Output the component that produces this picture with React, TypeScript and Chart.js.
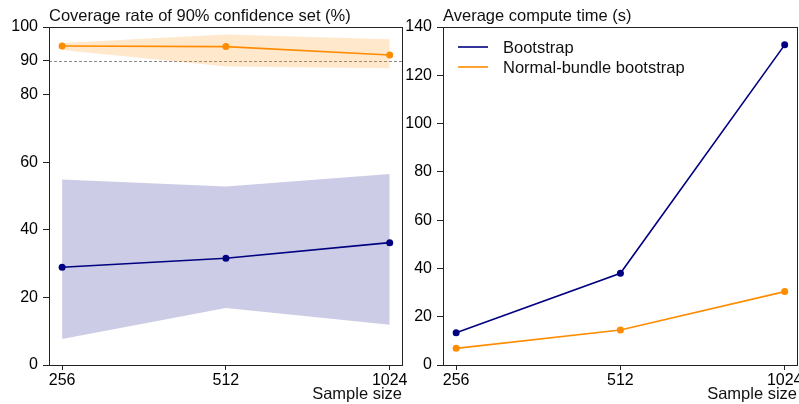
import React, { useEffect, useRef } from "react";
import { Chart, registerables } from "chart.js";
Chart.register(...registerables);

const sampleSizes = ["256", "512", "1024"];
const xIndex = [0, 1, 2];

const coverageBootstrap = [28.9, 31.6, 36.2];
const coverageBootstrapLow = [7.7, 16.9, 11.9];
const coverageBootstrapHigh = [54.9, 52.8, 56.5];
const coverageNormal = [94.4, 94.2, 91.7];
const coverageNormalLow = [93.2, 88.3, 87.8];
const coverageNormalHigh = [95.3, 97.8, 96.4];
const coverageTicks = [0, 20, 40, 60, 80, 90, 100];
const nominalLevel = 90;

const timeBootstrap = [13.4, 38.0, 132.6];
const timeNormal = [6.9, 14.5, 30.4];
const timeTicks = [0, 20, 40, 60, 80, 100, 120, 140];

const seriesNames = ["Bootstrap", "Normal-bundle bootstrap"];
const NAVY = "#000080";
const ORANGE = "#FF8C00";
const NAVY_BAND = "rgba(0,0,128,0.2)";
const ORANGE_BAND = "rgba(255,140,0,0.2)";
const FONT = "'Liberation Sans', Arial, sans-serif";

const pts = (ys: number[]) => xIndex.map((x, i) => ({ x, y: ys[i] }));

function lineDs(label: string, ys: number[], color: string) {
  return {
    label,
    data: pts(ys),
    borderColor: color,
    backgroundColor: color,
    borderWidth: 1.6,
    pointRadius: 3.5,
    pointBorderWidth: 0,
    pointBackgroundColor: color,
    fill: false,
    tension: 0,
  };
}
function bandDs(label: string, ys: number[], fill: any, color: string) {
  return {
    label,
    data: pts(ys),
    borderWidth: 0,
    borderColor: "rgba(0,0,0,0)",
    backgroundColor: color,
    pointRadius: 0,
    fill,
    tension: 0,
  };
}

function makeOptions(title: string, yTicks: number[], yMax: number, yWidth: number, padRight: number, extra: any) {
  return {
    responsive: false,
    animation: false as const,
    events: [],
    layout: { autoPadding: false, padding: { top: 27, left: 0, right: padRight, bottom: 0 } },
    plugins: {
      legend: { display: false },
      tooltip: { enabled: false },
      title: { display: false },
      panelDecor: { title, ...extra },
    },
    scales: {
      x: {
        type: "linear" as const,
        min: -0.08,
        max: 2.075,
        afterBuildTicks: (s: any) => {
          s.ticks = xIndex.map((v) => ({ value: v }));
        },
        afterFit: (s: any) => {
          s.height = 39;
          s.paddingLeft = 0;
          s.paddingRight = 0;
        },
        ticks: {
          callback: (v: any) => sampleSizes[v] ?? "",
          font: { family: FONT, size: 16 },
          color: "#000",
          padding: 1,
          maxRotation: 0,
          autoSkip: false,
        },
        grid: { drawOnChartArea: false, drawTicks: true, tickLength: 5, color: "#222", lineWidth: 1 },
        border: { display: false },
      },
      y: {
        type: "linear" as const,
        min: 0,
        max: yMax,
        afterBuildTicks: (s: any) => {
          s.ticks = yTicks.map((v) => ({ value: v }));
        },
        afterFit: (s: any) => {
          s.width = yWidth;
        },
        ticks: {
          font: { family: FONT, size: 16 },
          color: "#000",
          padding: 5,
          autoSkip: false,
        },
        grid: { drawOnChartArea: false, drawTicks: true, tickLength: 6, color: "#222", lineWidth: 1 },
        border: { display: false },
      },
    },
  };
}

const decorPlugin = {
  id: "panelDecor",
  beforeDatasetsDraw(chart: any, _args: any, opts: any) {
    const { ctx, chartArea, scales } = chart;
    if (opts.refLine !== undefined) {
      const y = Math.round(scales.y.getPixelForValue(opts.refLine)) + 0.5;
      ctx.save();
      ctx.strokeStyle = "#8a8a8a";
      ctx.lineWidth = 1;
      ctx.setLineDash([3, 2]);
      ctx.beginPath();
      ctx.moveTo(chartArea.left, y);
      ctx.lineTo(chartArea.right, y);
      ctx.stroke();
      ctx.restore();
    }
  },
  afterDraw(chart: any, _args: any, opts: any) {
    const { ctx, chartArea } = chart;
    ctx.save();
    ctx.strokeStyle = "#222";
    ctx.lineWidth = 1;
    ctx.strokeRect(
      Math.round(chartArea.left) + 0.5,
      Math.round(chartArea.top) + 0.5,
      Math.round(chartArea.right - chartArea.left),
      Math.round(chartArea.bottom - chartArea.top)
    );
    ctx.fillStyle = "#111";
    ctx.font = `16.5px ${FONT}`;
    ctx.textBaseline = "alphabetic";
    ctx.textAlign = "left";
    ctx.fillText(opts.title, chartArea.left, 21);
    ctx.textAlign = "right";
    ctx.fillText("Sample size", chartArea.right, 399);
    if (opts.legend) {
      ctx.textAlign = "left";
      const lx = chartArea.left + 15;
      opts.legend.forEach((item: any, i: number) => {
        const y = 47 + i * 20;
        ctx.strokeStyle = item.color;
        ctx.lineWidth = 1.6;
        ctx.beginPath();
        ctx.moveTo(lx, y);
        ctx.lineTo(lx + 30, y);
        ctx.stroke();
        ctx.fillStyle = "#111";
        ctx.fillText(item.label, lx + 45, y + 6);
      });
    }
    ctx.restore();
  },
};

export default function App() {
  const leftRef = useRef<HTMLCanvasElement>(null);
  const rightRef = useRef<HTMLCanvasElement>(null);

  useEffect(() => {
    const left = new Chart(leftRef.current!, {
      type: "line",
      data: {
        datasets: [
          lineDs(seriesNames[0], coverageBootstrap, NAVY),
          lineDs(seriesNames[1], coverageNormal, ORANGE),
          bandDs("b-high", coverageBootstrapHigh, "+1", NAVY_BAND),
          bandDs("b-low", coverageBootstrapLow, false, NAVY_BAND),
          bandDs("n-high", coverageNormalHigh, "+1", ORANGE_BAND),
          bandDs("n-low", coverageNormalLow, false, ORANGE_BAND),
        ] as any,
      },
      options: makeOptions("Coverage rate of 90% confidence set (%)", coverageTicks, 100, 49, 18, {
        refLine: nominalLevel,
      }) as any,
      plugins: [decorPlugin],
    });
    const right = new Chart(rightRef.current!, {
      type: "line",
      data: {
        datasets: [lineDs(seriesNames[0], timeBootstrap, NAVY), lineDs(seriesNames[1], timeNormal, ORANGE)] as any,
      },
      options: makeOptions("Average compute time (s)", timeTicks, 140, 43, 23, {
        legend: [
          { label: seriesNames[0], color: NAVY },
          { label: seriesNames[1], color: ORANGE },
        ],
      }) as any,
      plugins: [decorPlugin],
    });
    return () => {
      left.destroy();
      right.destroy();
    };
  }, []);

  return (
    <div style={{ position: "fixed", left: 0, top: 0, width: 799, height: 404, background: "#fff", overflow: "hidden" }}>
      <canvas ref={leftRef} width={420} height={404} style={{ position: "absolute", left: 0, top: 0, width: 420, height: 404 }} />
      <canvas ref={rightRef} width={420} height={404} style={{ position: "absolute", left: 400, top: 0, width: 420, height: 404 }} />
    </div>
  );
}
